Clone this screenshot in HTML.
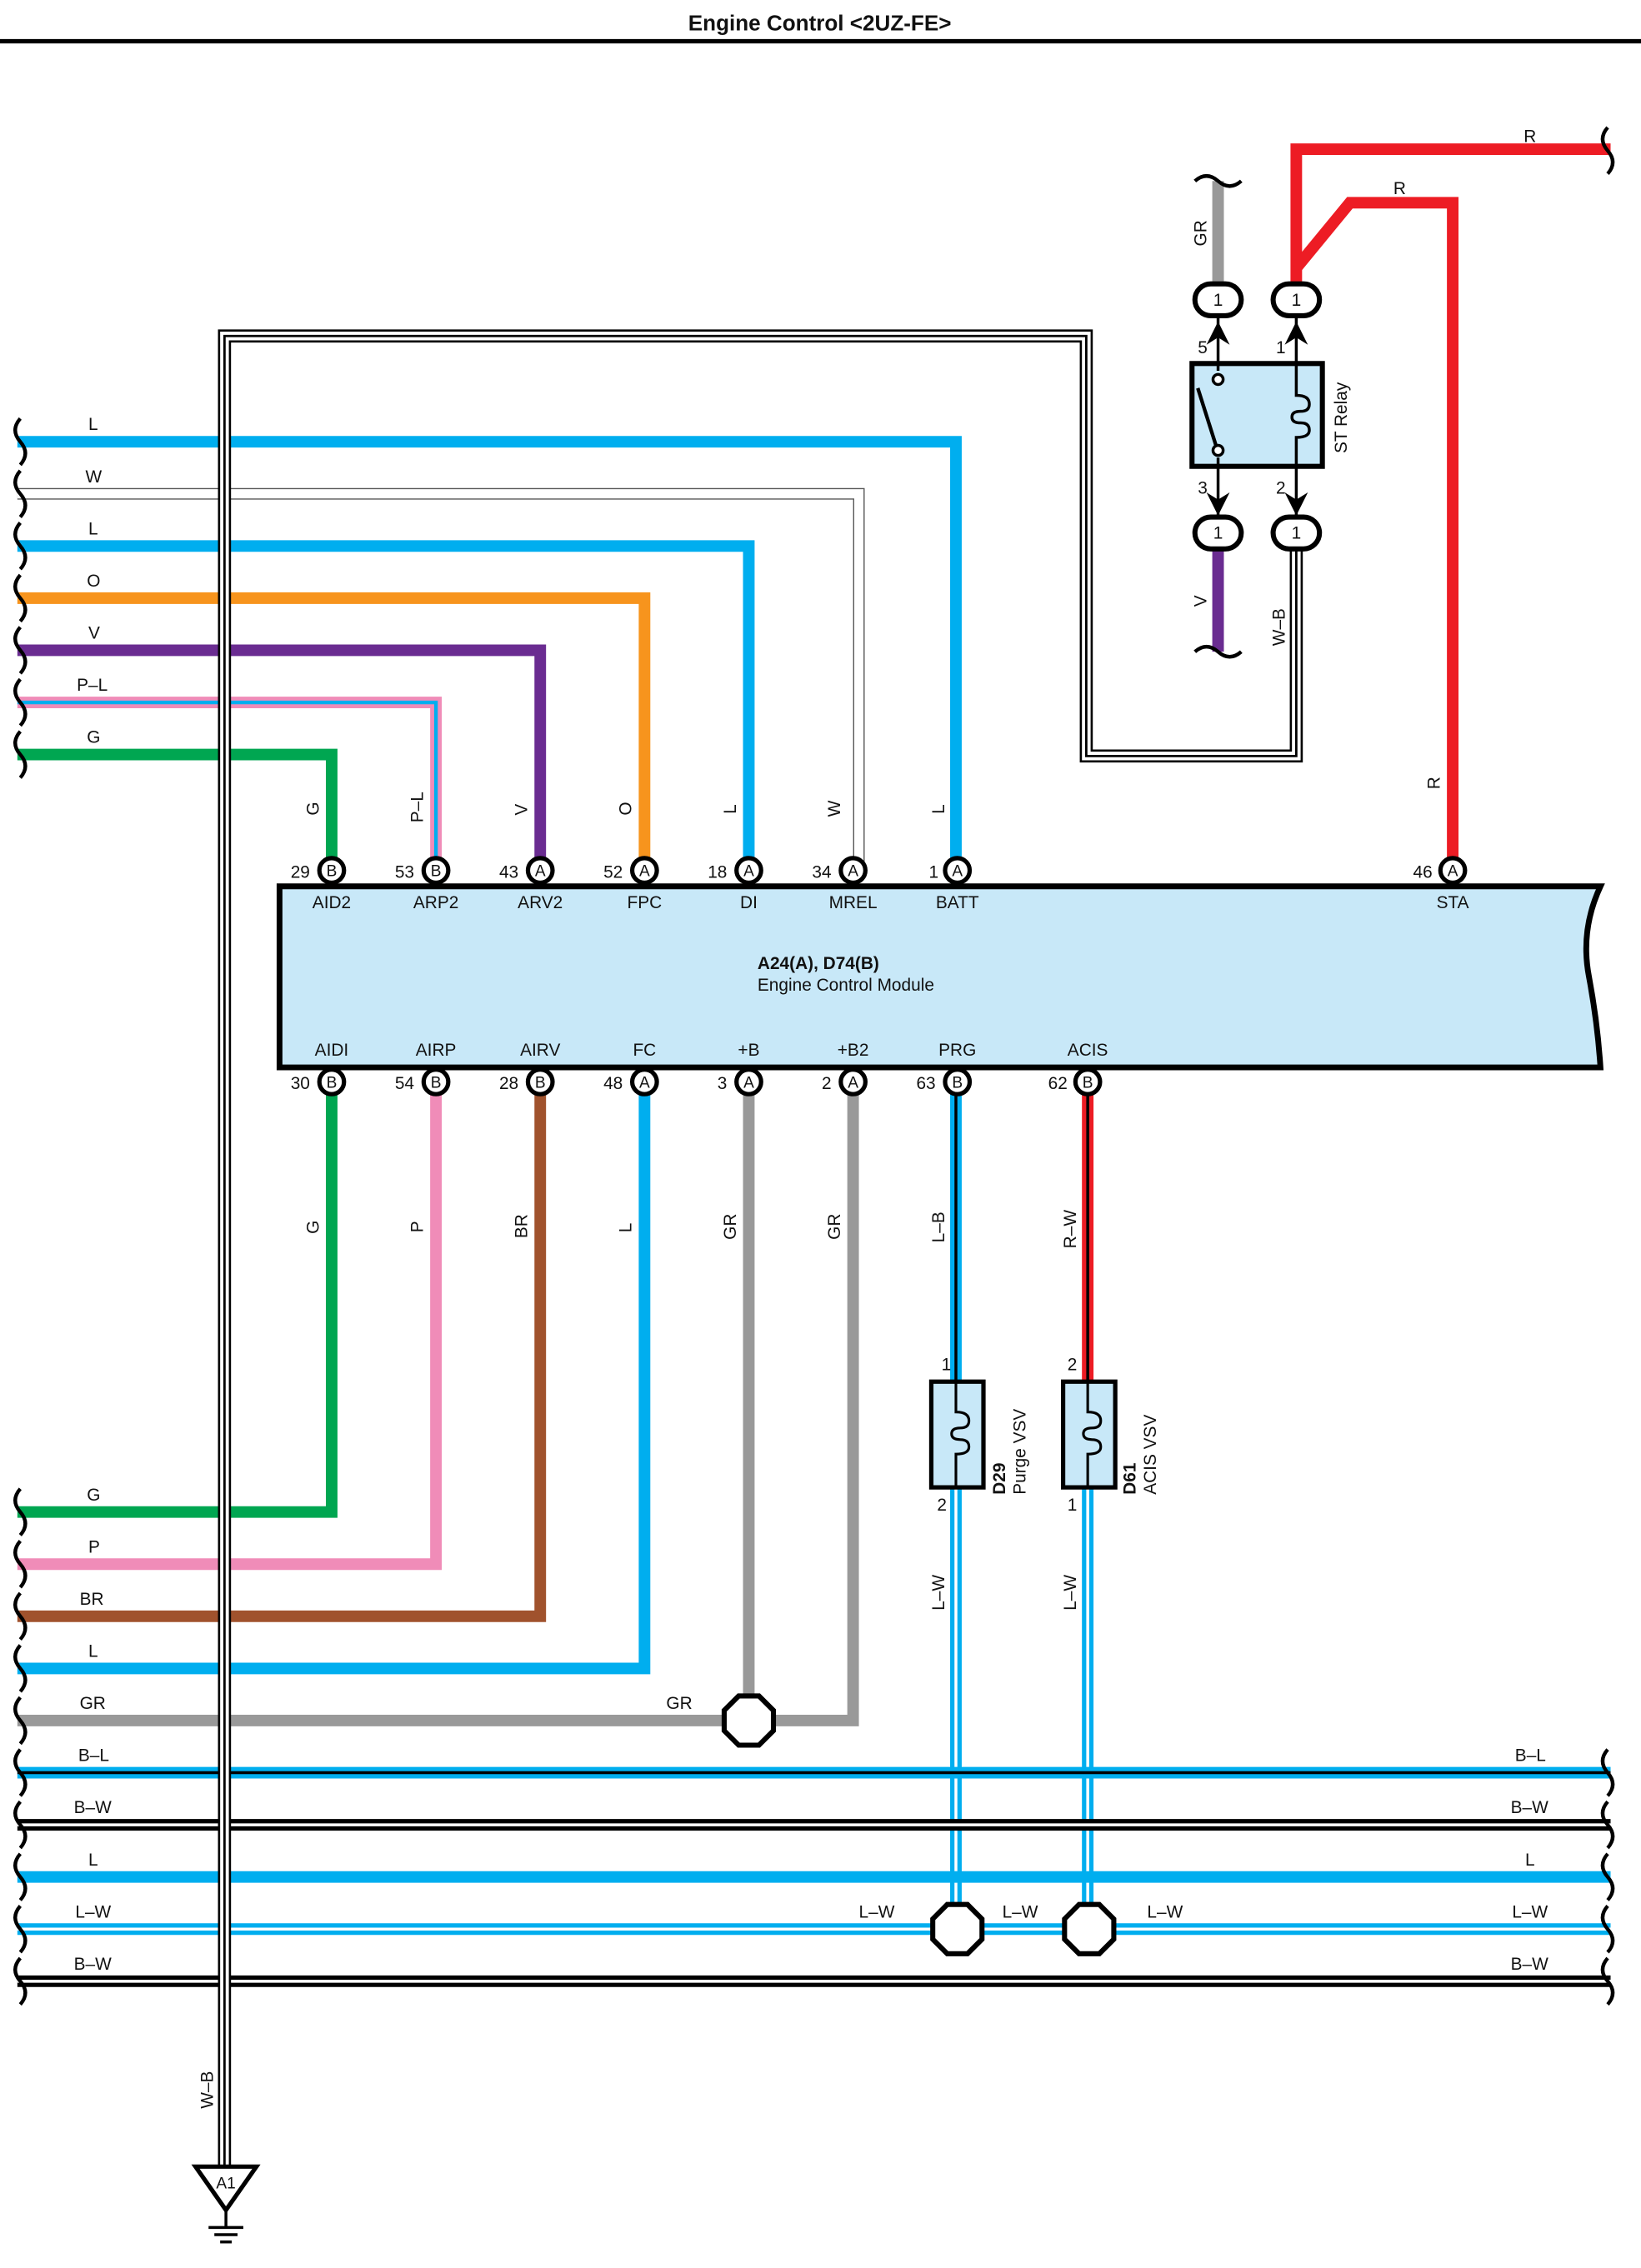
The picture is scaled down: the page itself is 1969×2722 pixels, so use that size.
<!DOCTYPE html>
<html><head><meta charset="utf-8"><style>
html,body{margin:0;padding:0;background:#fff}
svg{display:block}
text{font-family:"Liberation Sans",sans-serif;fill:#111}
</style></head><body>
<svg width="1969" height="2722" viewBox="0 0 1133 1566" preserveAspectRatio="none" xmlns="http://www.w3.org/2000/svg">
<rect width="1133" height="1566" fill="#fff"/>
<text x="566" y="21" font-size="15" font-weight="bold" text-anchor="middle">Engine Control &lt;2UZ-FE&gt;</text>
<line x1="0" y1="28.5" x2="1133" y2="28.5" stroke="#000" stroke-width="3"/>

<g fill="none" stroke-linejoin="miter" stroke-linecap="butt">
<path d="M12,305 H660 V601" stroke="#00aeef" stroke-width="8"/>
<path d="M12,341 H593 V601" stroke="#555" stroke-width="8"/><path d="M12,341 H593 V601" stroke="#fff" stroke-width="6.4"/>
<path d="M12,377 H517 V601" stroke="#00aeef" stroke-width="8"/>
<path d="M12,413 H445 V601" stroke="#f7941d" stroke-width="8"/>
<path d="M12,449 H373 V601" stroke="#6a2c91" stroke-width="8"/>
<path d="M12,485 H301 V601" stroke="#f08cb8" stroke-width="8"/><path d="M12,485 H301 V601" stroke="#00aeef" stroke-width="2.5"/>
<path d="M12,521 H229 V601" stroke="#00a651" stroke-width="8"/>
<path d="M229,747 V1044 H12" stroke="#00a651" stroke-width="8"/>
<path d="M301,747 V1080 H12" stroke="#f08cb8" stroke-width="8"/>
<path d="M373,747 V1116 H12" stroke="#a0522d" stroke-width="8"/>
<path d="M445,747 V1152 H12" stroke="#00aeef" stroke-width="8"/>
<path d="M517,747 V1188" stroke="#999" stroke-width="8"/>
<path d="M589,747 V1188 H12" stroke="#999" stroke-width="8"/>
<path d="M660,747 V955" stroke="#00aeef" stroke-width="8"/><path d="M660,747 V955" stroke="#000" stroke-width="2"/>
<path d="M751,747 V955" stroke="#ed1c24" stroke-width="8"/><path d="M751,747 V955" stroke="#000" stroke-width="2"/>
<path d="M660,1027 V1332" stroke="#00aeef" stroke-width="8"/><path d="M660,1027 V1332" stroke="#fff" stroke-width="2"/>
<path d="M751,1027 V1332" stroke="#00aeef" stroke-width="8"/><path d="M751,1027 V1332" stroke="#fff" stroke-width="2"/>
<path d="M12,1224 H1112" stroke="#00aeef" stroke-width="8"/><path d="M12,1224 H1112" stroke="#000" stroke-width="2"/>
<path d="M12,1260 H1112" stroke="#000" stroke-width="8"/><path d="M12,1260 H1112" stroke="#fff" stroke-width="2"/>
<path d="M12,1296 H1112" stroke="#00aeef" stroke-width="8"/>
<path d="M12,1332 H1112" stroke="#00aeef" stroke-width="8"/><path d="M12,1332 H1112" stroke="#fff" stroke-width="2"/>
<path d="M12,1368 H1112" stroke="#000" stroke-width="8"/><path d="M12,1368 H1112" stroke="#fff" stroke-width="2"/>
<path d="M841,125 V198" stroke="#999" stroke-width="8"/>
<path d="M841,376 V450" stroke="#6a2c91" stroke-width="8"/>
<path d="M895,198 V103 H1112" stroke="#ed1c24" stroke-width="8"/>
<path d="M895,185 L932,140 H1003 V601" stroke="#ed1c24" stroke-width="8"/>
<path d="M155,1497 V232 H750 V522 H895 V378" stroke="#000" stroke-width="9"/>
<path d="M155,1497 V232 H750 V522 H895 V378" stroke="#fff" stroke-width="6"/>
<path d="M155,1497 V232 H750 V522 H895 V378" stroke="#000" stroke-width="1.6"/>
</g>

<g fill="none" stroke="#000" stroke-width="2.5">
<path d="M14,289 q-7,8 0,16 q7,8 0,16"/>
<path d="M14,325 q-7,8 0,16 q7,8 0,16"/>
<path d="M14,361 q-7,8 0,16 q7,8 0,16"/>
<path d="M14,397 q-7,8 0,16 q7,8 0,16"/>
<path d="M14,433 q-7,8 0,16 q7,8 0,16"/>
<path d="M14,469 q-7,8 0,16 q7,8 0,16"/>
<path d="M14,505 q-7,8 0,16 q7,8 0,16"/>
<path d="M14,1028 q-7,8 0,16 q7,8 0,16"/>
<path d="M14,1064 q-7,8 0,16 q7,8 0,16"/>
<path d="M14,1100 q-7,8 0,16 q7,8 0,16"/>
<path d="M14,1136 q-7,8 0,16 q7,8 0,16"/>
<path d="M14,1172 q-7,8 0,16 q7,8 0,16"/>
<path d="M14,1208 q-7,8 0,16 q7,8 0,16"/>
<path d="M14,1244 q-7,8 0,16 q7,8 0,16"/>
<path d="M14,1280 q-7,8 0,16 q7,8 0,16"/>
<path d="M14,1316 q-7,8 0,16 q7,8 0,16"/>
<path d="M14,1352 q-7,8 0,16 q7,8 0,16"/>
<path d="M1110,1208 q-7,8 0,16 q7,8 0,16"/>
<path d="M1110,1244 q-7,8 0,16 q7,8 0,16"/>
<path d="M1110,1280 q-7,8 0,16 q7,8 0,16"/>
<path d="M1110,1316 q-7,8 0,16 q7,8 0,16"/>
<path d="M1110,1352 q-7,8 0,16 q7,8 0,16"/>
<path d="M1110,88 q-7,8 0,16 q7,8 0,16"/>
<path d="M825,125 q8,-7 16,0 q8,7 16,0"/>
<path d="M825,450 q8,-7 16,0 q8,7 16,0"/>
</g>

<path d="M193,612 H1105 q-14,30 -8,62 q6,32 8,63 H193 Z" fill="#c8e8f8" stroke="#000" stroke-width="4"/>
<text x="523" y="669" font-size="12" font-weight="bold">A24(A), D74(B)</text>
<text x="523" y="684" font-size="12">Engine Control Module</text>
<g font-size="12" text-anchor="middle">
<text x="229" y="627">AID2</text><text x="301" y="627">ARP2</text><text x="373" y="627">ARV2</text><text x="445" y="627">FPC</text><text x="517" y="627">DI</text><text x="589" y="627">MREL</text><text x="661" y="627">BATT</text><text x="1003" y="627">STA</text>
<text x="229" y="729">AIDI</text><text x="301" y="729">AIRP</text><text x="373" y="729">AIRV</text><text x="445" y="729">FC</text><text x="517" y="729">+B</text><text x="589" y="729">+B2</text><text x="661" y="729">PRG</text><text x="751" y="729">ACIS</text>
</g>
<g stroke="#000" stroke-width="3" fill="#fff">
<circle cx="229" cy="601" r="8.5"/><circle cx="301" cy="601" r="8.5"/><circle cx="373" cy="601" r="8.5"/><circle cx="445" cy="601" r="8.5"/><circle cx="517" cy="601" r="8.5"/><circle cx="589" cy="601" r="8.5"/><circle cx="661" cy="601" r="8.5"/><circle cx="1003" cy="601" r="8.5"/>
<circle cx="229" cy="747" r="8.5"/><circle cx="301" cy="747" r="8.5"/><circle cx="373" cy="747" r="8.5"/><circle cx="445" cy="747" r="8.5"/><circle cx="517" cy="747" r="8.5"/><circle cx="589" cy="747" r="8.5"/><circle cx="661" cy="747" r="8.5"/><circle cx="751" cy="747" r="8.5"/>
</g>
<g font-size="11" text-anchor="middle">
<text x="229" y="605">B</text><text x="301" y="605">B</text><text x="373" y="605">A</text><text x="445" y="605">A</text><text x="517" y="605">A</text><text x="589" y="605">A</text><text x="661" y="605">A</text><text x="1003" y="605">A</text>
<text x="229" y="751">B</text><text x="301" y="751">B</text><text x="373" y="751">B</text><text x="445" y="751">A</text><text x="517" y="751">A</text><text x="589" y="751">A</text><text x="661" y="751">B</text><text x="751" y="751">B</text>
</g>
<g font-size="12" text-anchor="end">
<text x="214" y="606">29</text><text x="286" y="606">53</text><text x="358" y="606">43</text><text x="430" y="606">52</text><text x="502" y="606">18</text><text x="574" y="606">34</text><text x="648" y="606">1</text><text x="989" y="606">46</text>
<text x="214" y="752">30</text><text x="286" y="752">54</text><text x="358" y="752">28</text><text x="430" y="752">48</text><text x="502" y="752">3</text><text x="574" y="752">2</text><text x="646" y="752">63</text><text x="737" y="752">62</text>
</g>

<g font-size="12">
<text x="61" y="297">L</text><text x="59" y="333">W</text><text x="61" y="369">L</text><text x="60" y="405">O</text><text x="61" y="441">V</text><text x="53" y="477">P–L</text><text x="60" y="513">G</text>
<text x="60" y="1036">G</text><text x="61" y="1072">P</text><text x="55" y="1108">BR</text><text x="61" y="1144">L</text><text x="55" y="1180">GR</text>
<text x="54" y="1216">B–L</text><text x="51" y="1252">B–W</text><text x="61" y="1288">L</text><text x="52" y="1324">L–W</text><text x="51" y="1360">B–W</text>
<text x="1046" y="1216">B–L</text><text x="1043" y="1252">B–W</text><text x="1053" y="1288">L</text><text x="1044" y="1324">L–W</text><text x="1043" y="1360">B–W</text>
<text x="460" y="1180">GR</text><text x="593" y="1324">L–W</text><text x="692" y="1324">L–W</text><text x="792" y="1324">L–W</text>
<text x="1052" y="98">R</text><text x="962" y="134">R</text>
</g>
<g font-size="12">
<text transform="translate(220,563) rotate(-90)">G</text>
<text transform="translate(292,568) rotate(-90)">P–L</text>
<text transform="translate(364,563) rotate(-90)">V</text>
<text transform="translate(436,563) rotate(-90)">O</text>
<text transform="translate(508,562) rotate(-90)">L</text>
<text transform="translate(580,564) rotate(-90)">W</text>
<text transform="translate(652,562) rotate(-90)">L</text>
<text transform="translate(994,545) rotate(-90)">R</text>
<text transform="translate(220,852) rotate(-90)">G</text>
<text transform="translate(292,851) rotate(-90)">P</text>
<text transform="translate(364,855) rotate(-90)">BR</text>
<text transform="translate(436,851) rotate(-90)">L</text>
<text transform="translate(508,856) rotate(-90)">GR</text>
<text transform="translate(580,856) rotate(-90)">GR</text>
<text transform="translate(652,858) rotate(-90)">L–B</text>
<text transform="translate(743,862) rotate(-90)">R–W</text>
<text transform="translate(652,1112) rotate(-90)">L–W</text>
<text transform="translate(743,1112) rotate(-90)">L–W</text>
<text transform="translate(833,170) rotate(-90)">GR</text>
<text transform="translate(833,419) rotate(-90)">V</text>
<text transform="translate(887,446) rotate(-90)">W–B</text>
<text transform="translate(147,1456) rotate(-90)">W–B</text>
</g>

<g fill="#fff" stroke="#000" stroke-width="3.5">
<polygon points="510,1171 524,1171 534,1181 534,1195 524,1205 510,1205 500,1195 500,1181"/>
<polygon points="654,1315 668,1315 678,1325 678,1339 668,1349 654,1349 644,1339 644,1325"/>
<polygon points="745,1315 759,1315 769,1325 769,1339 759,1349 745,1349 735,1339 735,1325"/>
</g>

<g stroke="#000" stroke-width="3" fill="#c8e8f8">
<rect x="643" y="954" width="36" height="73"/><rect x="734" y="954" width="36" height="73"/>
</g>
<g stroke="#000" stroke-width="1.8" fill="none">
<path d="M660,954 V975 q9,0 9,6 q0,5 -6,5 q-6,0 -6,4 q0,4 6,4 q6,0 6,5 q0,5 -9,5 V1027"/>
<path d="M751,954 V975 q9,0 9,6 q0,5 -6,5 q-6,0 -6,4 q0,4 6,4 q6,0 6,5 q0,5 -9,5 V1027"/>
</g>
<g font-size="12">
<text x="650" y="946">1</text><text x="647" y="1043">2</text><text x="737" y="946">2</text><text x="737" y="1043">1</text>
<text transform="translate(694,1032) rotate(-90)" font-weight="bold">D29</text>
<text transform="translate(708,1032) rotate(-90)">Purge VSV</text>
<text transform="translate(784,1032) rotate(-90)" font-weight="bold">D61</text>
<text transform="translate(798,1032) rotate(-90)">ACIS VSV</text>
</g>

<rect x="823" y="251" width="90" height="71" fill="#c8e8f8" stroke="#000" stroke-width="3.5"/>
<g stroke="#000" stroke-width="2" fill="none">
<path d="M841,214 V256"/><path d="M841,316 V360"/>
<path d="M827,268 L840,309" stroke-width="2.5"/>
<circle cx="841" cy="262" r="3.5" fill="#fff"/><circle cx="841" cy="311" r="3.5" fill="#fff"/>
<path d="M895,214 V273 q9,0 9,6 q0,5 -6,5 q-6,0 -6,4 q0,4 6,4 q6,0 6,5 q0,5 -9,5 V360"/>
</g>
<g fill="#000">
<path d="M833,238 L841,222 L849,238 L841,233 Z"/><path d="M887,238 L895,222 L903,238 L895,233 Z"/>
<path d="M833,340 L841,356 L849,340 L841,345 Z"/><path d="M887,340 L895,356 L903,340 L895,345 Z"/>
</g>
<g stroke="#000" stroke-width="3.5" fill="#fff">
<rect x="825" y="196" width="32" height="22" rx="11"/><rect x="879" y="196" width="32" height="22" rx="11"/>
<rect x="825" y="357" width="32" height="22" rx="11"/><rect x="879" y="357" width="32" height="22" rx="11"/>
</g>
<g font-size="12" text-anchor="middle">
<text x="841" y="211">1</text><text x="895" y="211">1</text><text x="841" y="372">1</text><text x="895" y="372">1</text>
</g>
<g font-size="12">
<text x="827" y="244">5</text><text x="881" y="244">1</text><text x="827" y="341">3</text><text x="881" y="341">2</text>
<text transform="translate(930,313) rotate(-90)">ST Relay</text>
</g>

<polygon points="135,1496 177,1496 156,1526" fill="#fff" stroke="#000" stroke-width="3"/>
<text x="156" y="1511" font-size="11" text-anchor="middle">A1</text>
<g stroke="#000" stroke-width="2">
<line x1="156" y1="1526" x2="156" y2="1538"/>
<line x1="144" y1="1538" x2="168" y2="1538"/>
<line x1="148" y1="1543" x2="164" y2="1543"/>
<line x1="152" y1="1548" x2="160" y2="1548"/>
</g>
</svg>
</body></html>
